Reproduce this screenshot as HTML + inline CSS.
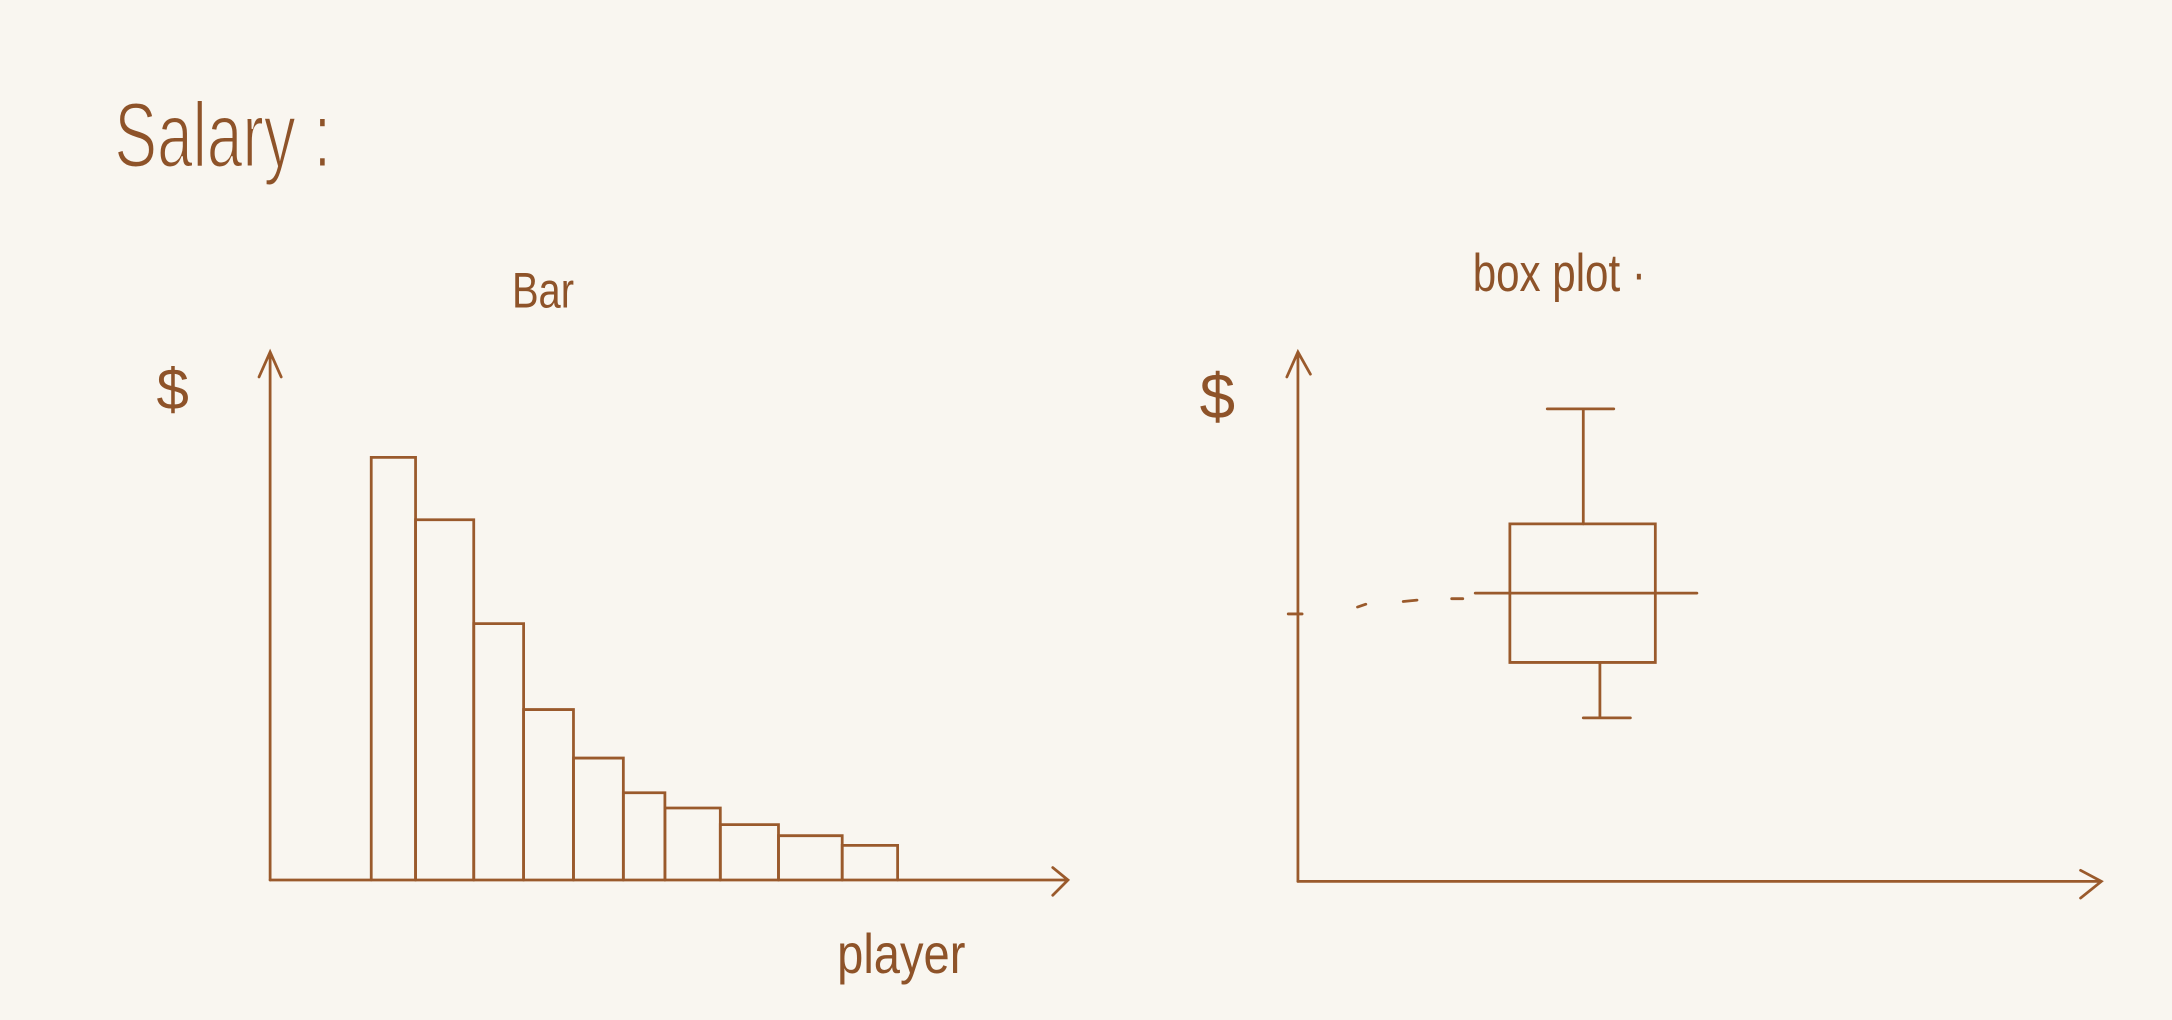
<!DOCTYPE html>
<html><head><meta charset="utf-8">
<style>
html,body{margin:0;padding:0;background:#f9f6f0;}
svg{display:block}
text{font-family:"Liberation Sans",sans-serif;fill:#8e5329;}
</style></head>
<body>
<svg id="s" width="2172" height="1020" viewBox="0 0 1568 736" preserveAspectRatio="none" xmlns="http://www.w3.org/2000/svg">
<rect width="1568" height="736" fill="#f9f6f0"/>
<g stroke="#9a5a2c" stroke-width="2" fill="none" stroke-linecap="round">
 <path d="M195 635 L195 255 M187 272 L195 254 L203 272"/>
 <path d="M195 635 L770 635 M760 626 L771 635 L760 646"/>
 <g id="bars"></g>
 <path d="M937 636 L937 255 M929 272 L937 254 L946 270"/>
 <path d="M937 636 L1515 636 M1502 628 L1517 636 L1502 648"/>
 <g id="box"></g>
</g>
<text x="82" y="120" font-size="66" transform="scale(0.7,1) translate(36,0)" stroke="#f9f6f0" stroke-width="1.5">Salary :</text>
<text x="370" y="222" font-size="36" transform="scale(0.8,1) translate(92,0)">Bar</text>
<text x="113" y="295" font-size="42">$</text>
<text x="605" y="702" font-size="40" transform="scale(0.85,1) translate(106,0)">player</text>
<text x="1063" y="210" font-size="38" transform="scale(0.8,1) translate(266,0)">box plot ·</text>
<text x="866" y="302" font-size="46">$</text>
</svg>
<script>
const barValues=[305,260,185,123,88,63,52,40,32,25];
const barEdges=[268,300,342,378,414,450,480,520,562,608,648];
const boxMin=117, boxQ1=157, boxMedian=207, boxQ3=257, boxMax=340;
const NS="http://www.w3.org/2000/svg";
function yScale(v){return 635-v;}
const bars=document.getElementById('bars');
barValues.forEach((v,i)=>{
  const x0=barEdges[i],x1=barEdges[i+1],t=yScale(v);
  const p=document.createElementNS(NS,'path');
  p.setAttribute('d',`M${x0} 635 L${x0} ${t} L${x1} ${t} L${x1} 635`);
  
  
  bars.appendChild(p);
});
const box=document.getElementById('box');
function add(d,name){const p=document.createElementNS(NS,'path');p.setAttribute('d',d);


box.appendChild(p);}
const bx0=1090,bx1=1195,cx=1143;
add(`M${bx0} ${yScale(boxQ3)} L${bx1} ${yScale(boxQ3)} L${bx1} ${yScale(boxQ1)} L${bx0} ${yScale(boxQ1)} Z`,'box-iqr');
add(`M1065 ${yScale(boxMedian)} L1225 ${yScale(boxMedian)}`,'box-median');
add(`M${cx} ${yScale(boxQ3)} L${cx} ${yScale(boxMax)} M1117 ${yScale(boxMax)} L1165 ${yScale(boxMax)}`,'whisker-max');
add(`M1155 ${yScale(boxQ1)} L1155 ${yScale(boxMin)} M1143 ${yScale(boxMin)} L1177 ${yScale(boxMin)}`,'whisker-min');
add(`M980 ${yScale(boxMedian)+10} L986 ${yScale(boxMedian)+8} M1013 ${yScale(boxMedian)+6} L1023 ${yScale(boxMedian)+5} M1048 ${yScale(boxMedian)+4} L1056 ${yScale(boxMedian)+4} M930 ${yScale(boxMedian)+15} L940 ${yScale(boxMedian)+15}`,'median-reference-dashes');
</script>
</body></html>
